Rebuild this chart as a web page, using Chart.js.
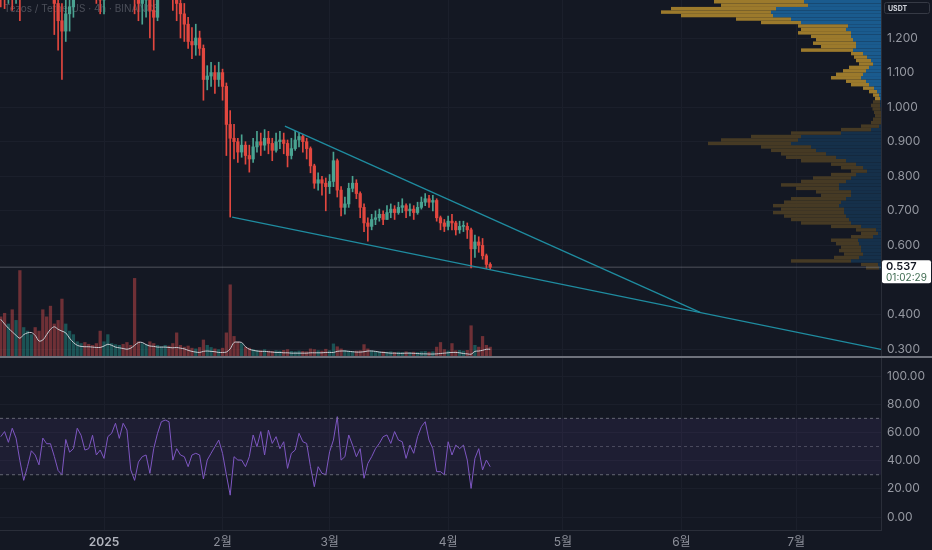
<!DOCTYPE html>
<html>
<head>
<meta charset="utf-8">
<script src="https://cdn.jsdelivr.net/npm/chart.js@4.4.0/dist/chart.umd.min.js"></script>
<style>
  html, body { margin: 0; padding: 0; background: #141823; }
  #wrap { position: relative; width: 932px; height: 550px; overflow: hidden; background: #141823; }
  canvas { position: absolute; left: 0; }
  #sep { position: absolute; left: 0; top: 356px; width: 932px; height: 2px; background: #6f727c; }
</style>
</head>
<body>
<div id="wrap">
  <canvas id="price" width="932" height="356" style="top:0"></canvas>
  <div id="sep"></div>
  <canvas id="rsi" width="932" height="192" style="top:358px"></canvas>
</div>
<script>
// XTZ/USDT, one entry per day, day 0 = 1 Jan 2025
const firstDay = -27;
const firstOpen = 1.37;
const closes = [
  1.36,1.34,1.38,1.35,1.37,1.34,1.42,1.48,1.52,1.50,
  1.47,1.45,1.40,1.38,1.30,1.25,1.22,1.27,1.29,1.33,
  1.37,1.40,1.38,1.36,1.34,1.33,1.31,1.34,1.38,1.42,
  1.45,1.48,1.46,1.43,1.38,1.33,1.30,1.31,1.32,1.28,
  1.26,1.33,1.38,1.40,1.36,1.33,1.30,1.27,1.24,1.19,
  1.18,1.20,1.17,1.08,1.09,1.10,1.08,1.10,1.06,0.95,
  0.91,0.90,0.87,0.89,0.86,0.85,0.885,0.90,0.89,0.91,
  0.895,0.875,0.90,0.905,0.895,0.86,0.88,0.905,0.915,0.90,
  0.88,0.83,0.78,0.79,0.78,0.77,0.785,0.845,0.76,0.71,
  0.72,0.765,0.78,0.75,0.71,0.665,0.655,0.675,0.68,0.69,
  0.675,0.695,0.705,0.695,0.71,0.715,0.70,0.705,0.695,0.71,
  0.725,0.735,0.725,0.73,0.68,0.665,0.655,0.67,0.665,0.645,
  0.655,0.655,0.645,0.59,0.61,0.60,0.57,0.545,0.537
];
const highs = [
  1.42,1.40,1.44,1.42,1.43,1.42,1.48,1.55,1.60,1.58,
  1.53,1.52,1.48,1.44,1.40,1.33,1.30,1.31,1.33,1.37,
  1.42,1.45,1.44,1.41,1.39,1.37,1.36,1.37,1.42,1.46,
  1.50,1.52,1.51,1.48,1.45,1.39,1.36,1.35,1.36,1.34,
  1.32,1.36,1.42,1.44,1.42,1.38,1.36,1.33,1.30,1.26,
  1.23,1.24,1.22,1.18,1.12,1.13,1.12,1.13,1.11,1.07,
  0.99,0.95,0.91,0.92,0.90,0.89,0.91,0.93,0.925,0.935,
  0.93,0.91,0.925,0.93,0.925,0.905,0.91,0.93,0.925,0.92,
  0.91,0.885,0.835,0.81,0.80,0.795,0.805,0.87,0.85,0.77,
  0.74,0.78,0.80,0.79,0.755,0.72,0.68,0.69,0.70,0.705,
  0.70,0.715,0.72,0.715,0.725,0.735,0.72,0.72,0.715,0.725,
  0.74,0.75,0.745,0.745,0.735,0.685,0.675,0.685,0.69,0.67,
  0.67,0.67,0.665,0.65,0.63,0.625,0.62,0.575,0.55
];
const lows = [
  1.29,1.285,1.30,1.28,1.30,1.25,1.33,1.40,1.45,1.44,
  1.41,1.38,1.35,1.33,1.21,1.165,1.08,1.19,1.22,1.26,
  1.32,1.35,1.33,1.32,1.315,1.30,1.27,1.27,1.32,1.36,
  1.40,1.42,1.40,1.36,1.32,1.27,1.25,1.24,1.26,1.20,
  1.165,1.25,1.32,1.35,1.32,1.28,1.25,1.20,1.19,1.17,
  1.14,1.15,1.15,1.02,1.05,1.06,1.04,1.06,1.02,0.86,
  0.682,0.85,0.84,0.855,0.835,0.812,0.84,0.87,0.86,0.875,
  0.865,0.845,0.87,0.88,0.865,0.827,0.85,0.875,0.885,0.87,
  0.85,0.81,0.765,0.76,0.745,0.70,0.75,0.77,0.74,0.685,
  0.69,0.71,0.755,0.735,0.68,0.64,0.612,0.645,0.66,0.67,
  0.66,0.675,0.68,0.675,0.69,0.695,0.68,0.685,0.675,0.69,
  0.705,0.715,0.71,0.70,0.67,0.645,0.64,0.645,0.645,0.63,
  0.635,0.64,0.62,0.535,0.565,0.58,0.56,0.533,0.53
];
const volumes = [
  11,12,9,13,10,24,8,7,6,8,
  7,13,11,14,9,10,16,9,7,6,
  4,3.5,3.8,3.3,3.0,3.5,7,4,6,3.5,
  3.2,3.0,3.3,3.8,3.0,21.8,4,3.5,3.2,4,
  3.5,3.0,2.6,3.0,2.8,3.5,6.5,3.0,2.5,2.8,
  2.2,2.0,2.4,4.5,3.0,2.4,2.0,1.8,2.2,6.5,
  20,5.5,4.0,3.5,2.5,2.2,1.8,1.6,1.5,1.8,
  1.4,1.3,1.5,1.4,1.6,1.8,1.3,1.2,1.4,1.3,
  1.2,2.0,1.8,1.5,1.4,1.9,1.5,3.4,2.6,2.0,
  1.6,1.4,1.3,1.4,1.5,3.2,2.0,1.5,1.3,1.2,
  1.2,1.1,1.2,1.0,1.1,1.0,1.2,1.0,1.1,1.0,
  1.2,1.3,1.1,1.2,2.5,3.8,1.8,1.4,3.5,1.5,
  1.6,1.4,1.6,8.5,3.0,2.5,5.5,3.0,2.5
];
const volumeMA = [
  10.3,9.0,7.8,6.8,5.8,5.0,6.0,6.5,6.6,5.8,
  4.2,4.5,6.0,7.5,8.2,7.5,7.0,6.5,5.0,3.8,
  3.0,2.7,2.6,2.6,2.5,2.4,2.4,2.8,3.3,3.0,
  2.5,2.3,2.1,1.9,2.2,3.0,3.8,3.8,3.2,2.8,
  2.7,2.5,2.5,2.5,2.4,2.3,2.4,2.2,2.0,1.6,
  1.3,1.1,1.0,1.3,1.4,1.3,1.2,1.0,1.0,1.1,
  2.0,3.8,3.9,3.8,2.6,1.9,1.6,1.4,1.3,1.3,
  1.2,1.1,1.0,1.0,0.9,0.9,0.8,0.8,0.8,0.8,
  0.8,0.9,0.9,0.9,0.9,1.0,1.0,1.0,1.3,1.4,
  1.4,1.3,1.2,1.1,1.1,1.2,1.4,1.4,1.3,1.1,
  1.0,0.9,0.8,0.8,0.75,0.75,0.8,0.8,0.75,0.7,
  0.6,0.6,0.55,0.55,0.6,0.7,0.8,0.9,1.0,1.0,
  0.9,0.7,0.6,0.5,1.3,1.4,1.6,1.9,1.9
];
const rsi = [
  57,60.6,53,63,56,40,26,36,47,44,
  37,56,52,52,43,33,30,55,46,48.5,
  63,58,47.5,48.5,58,44,47.5,41.6,57,59.4,
  66.5,55.8,66.5,61.7,33.4,26,39,42.8,44,31,
  48.5,59.4,67.6,68.8,67.6,40.4,48.5,44,42.8,35.7,
  44,45.2,44,27,40.4,45.2,49.9,54.6,45.2,30,
  15.5,42.8,40.4,40.4,35.7,42.8,58.2,49.9,60.6,44,
  61.7,52.2,57,48.5,53.4,34.5,45.2,47.5,59.4,53.4,
  52.2,35.7,21.5,35.7,31,30,46.3,54.6,71.2,40.4,
  42.8,58.2,51,42.8,48.5,27.5,38,42.8,48.5,52.2,
  57,58.2,52.2,60.6,54.6,53.4,41.6,51,45.2,57,
  64.1,67.6,54.6,48.5,32.2,32.2,30,53.4,44,51,
  48.5,51,40.4,20.3,41.6,48.5,33.4,40.4,35.7
];

// volume profile (visible range), rows of 0.01 from 0.53 up
const profileStep = 0.01;
const profileLevels = [
  0.53,0.54,0.55,0.56,0.57,0.58,0.59,0.60,0.61,0.62,
  0.63,0.64,0.65,0.66,0.67,0.68,0.69,0.70,0.71,0.72,
  0.73,0.74,0.75,0.76,0.77,0.78,0.79,0.80,0.81,0.82,
  0.83,0.84,0.85,0.86,0.87,0.88,0.89,0.90,0.91,0.92,
  0.93,0.94,0.95,0.96,0.97,0.98,0.99,1.00,1.01,1.02,
  1.03,1.04,1.05,1.06,1.07,1.08,1.09,1.10,1.11,1.12,
  1.13,1.14,1.15,1.16,1.17,1.18,1.19,1.20,1.21,1.22,
  1.23,1.24,1.25,1.26,1.27,1.28,1.29,1.30
];
const profileUp = [
  2,3,30,22,18,20,20,22,23,8,
  3,5,20,30,32,35,37,37,42,40,
  35,30,30,42,42,35,30,25,14,18,
  25,35,45,55,65,70,90,83,80,40,
  10,2,0,0,0,0,0.5,1,1,1,
  2,4,7,12,15,20,18,15,12,8,
  10,14,18,28,25,25,28,30,30,35,
  33,80,90,108,110,105,73,77
];
const profileDown = [
  13,17,60,25,19,22,20,23,27,22,
  17,20,30,50,58,62,71,63,66,57,
  55,30,35,43,58,45,38,25,16,22,
  25,45,50,45,45,50,83,77,50,50,
  30,18,10,8,6,7,8,9,7,5,
  6,8,11,18,20,30,27,23,20,14,
  15,13,12,52,35,43,37,40,53,45,
  50,40,55,92,110,105,87,90
];
const valueAreaLow = 1.02;

// falling wedge lines [day, price]
const wedgeUpperX = [47.3, 155.9];
const wedgeUpperY = [0.945, 0.406];
const wedgeLowerX = [33.5, 203.2];
const wedgeLowerY = [0.682, 0.299];

const monthTicks = [0, 31, 59, 90, 120, 151, 181];
const monthLabels = ['2025', '2월', '3월', '4월', '5월', '6월', '7월'];
const priceTicks = [0.3, 0.4, 0.6, 0.7, 0.8, 0.9, 1.0, 1.1, 1.2];
const rsiTicks = [0, 20, 40, 60, 80, 100];
const rsiBands = [70, 50, 30];

const xMin = -27.2, xMax = 203.2;
const FF = "Inter, 'Noto Sans CJK KR', sans-serif";
const gridCol = '#1b1f2b';
const axisText = '#9598a1';
Chart.defaults.font.family = FF;

const opens = closes.map((c, i) => i === 0 ? firstOpen : closes[i - 1]);
const upCol = '#4aa391', dnCol = '#e2473f';
const isUp = closes.map((c, i) => c >= opens[i]);
const candleCol = isUp.map(u => u ? upCol : dnCol);
const volCol = isUp.map(u => u ? 'rgba(38,166,154,0.42)' : 'rgba(239,83,80,0.42)');
const dayOf = i => firstDay + i;
const lastPrice = closes[closes.length - 1];

const monthTickBuilder = s => { s.ticks = monthTicks.map(v => ({ value: v })); };
// price/rsi axes: no extra label padding, fixed width
const sideAxisFit = s => { s.width = 51; s.paddingTop = 0; s.paddingBottom = 0; };

const paneDeco = {
  id: 'paneDeco',
  beforeDatasetsDraw(chart) {
    const { ctx, chartArea: a, scales } = chart;
    const y = scales.y, xp = scales.xProf;
    ctx.save();
    ctx.beginPath();
    ctx.rect(a.left, a.top, a.right - a.left, a.bottom - a.top);
    ctx.clip();
    ctx.font = '10px ' + FF;
    ctx.fillStyle = 'rgba(178,181,190,0.35)';
    ctx.textBaseline = 'middle';
    ctx.fillText('Tezos / TetherUS · 4h · BINANCE', 4, 9);
    profileLevels.forEach((p, i) => {
      const top = y.getPixelForValue(p + profileStep);
      const bot = y.getPixelForValue(p);
      const va = p >= valueAreaLow;
      const x0 = xp.getPixelForValue(0);
      const x1 = xp.getPixelForValue(profileUp[i]);
      const x2 = xp.getPixelForValue(profileUp[i] + profileDown[i]);
      ctx.fillStyle = va ? '#1a5b8e' : '#15304a';
      ctx.fillRect(x1, top, x0 - x1, bot - top);
      ctx.fillStyle = va ? '#9c7a2c' : '#463a24';
      ctx.fillRect(x2, top, x1 - x2, bot - top);
    });
    ctx.restore();
  },
  afterDraw(chart) {
    const { ctx, scales } = chart;
    const py = scales.y.getPixelForValue(lastPrice);
    ctx.save();
    // currency box
    ctx.fillStyle = '#141823';
    ctx.strokeStyle = '#363a45';
    ctx.beginPath();
    ctx.roundRect(884.5, 2.5, 45, 11, 2);
    ctx.fill(); ctx.stroke();
    ctx.fillStyle = '#d1d4dc';
    ctx.font = 'bold 7px ' + FF;
    ctx.textBaseline = 'middle';
    ctx.fillText('USDT', 888, 8.5);
    // last price label
    ctx.fillStyle = '#ffffff';
    ctx.beginPath();
    ctx.roundRect(882, py - 7, 49, 23, 2);
    ctx.fill();
    ctx.fillStyle = '#131722';
    ctx.font = '600 11px ' + FF;
    ctx.fillText(lastPrice.toFixed(3), 886, py);
    ctx.fillStyle = '#3e6b50';
    ctx.font = '10px ' + FF;
    ctx.fillText('01:02:29', 886, py + 10.5);
    ctx.restore();
  }
};

new Chart(document.getElementById('price'), {
  type: 'bar',
  data: {
    datasets: [
      {
        type: 'bar', label: 'volume', yAxisID: 'yVol', order: 10,
        data: volumes.map((v, i) => ({ x: dayOf(i), y: v })),
        backgroundColor: volCol, barThickness: 2.6, grouped: false, borderWidth: 0
      },
      {
        type: 'line', label: 'volume MA', yAxisID: 'yVol', order: 9,
        data: volumeMA.map((v, i) => ({ x: dayOf(i), y: v })),
        borderColor: '#c9cbd1', borderWidth: 1, pointRadius: 0, tension: 0.3
      },
      {
        type: 'line', label: 'last', yAxisID: 'y', order: 8,
        data: [{ x: xMin, y: lastPrice }, { x: xMax, y: lastPrice }],
        borderColor: 'rgba(150,153,162,0.45)', borderWidth: 1, pointRadius: 0
      },
      {
        type: 'bar', label: 'wick', yAxisID: 'y', order: 3,
        data: closes.map((c, i) => ({ x: dayOf(i), y: [lows[i], highs[i]] })),
        backgroundColor: candleCol, barThickness: 1, grouped: false, borderWidth: 0
      },
      {
        type: 'bar', label: 'body', yAxisID: 'y', order: 2,
        data: closes.map((c, i) => ({ x: dayOf(i), y: [opens[i], c] })),
        backgroundColor: candleCol, barThickness: 2.6, grouped: false, borderWidth: 0, minBarLength: 1
      },
      {
        type: 'line', label: 'wedge upper', yAxisID: 'y', order: 1,
        data: wedgeUpperX.map((x, i) => ({ x, y: wedgeUpperY[i] })),
        borderColor: '#1f8ca0', borderWidth: 1.3, pointRadius: 0
      },
      {
        type: 'line', label: 'wedge lower', yAxisID: 'y', order: 1,
        data: wedgeLowerX.map((x, i) => ({ x, y: wedgeLowerY[i] })),
        borderColor: '#1f8ca0', borderWidth: 1.3, pointRadius: 0
      }
    ]
  },
  options: {
    responsive: false, animation: false,
    layout: { padding: 0 },
    plugins: { legend: { display: false }, tooltip: { enabled: false } },
    scales: {
      x: {
        type: 'linear', min: xMin, max: xMax, offset: false,
        afterBuildTicks: monthTickBuilder,
        ticks: { display: false },
        grid: { color: gridCol, drawTicks: false, offset: false },
        border: { display: false },
        afterFit: s => { s.height = 0; s.paddingLeft = 0; s.paddingRight = 0; }
      },
      y: {
        position: 'right', min: 0.28, max: 1.31,
        afterBuildTicks: s => { s.ticks = priceTicks.map(v => ({ value: v })); },
        ticks: { color: axisText, font: { size: 12 }, padding: 6, callback: v => Number(v).toFixed(3) },
        grid: { color: gridCol, drawTicks: false },
        border: { color: '#2a2e39' },
        afterFit: sideAxisFit
      },
      yVol: { axis: 'y', type: 'linear', display: false, min: 0, max: 100 },
      xProf: { axis: 'x', type: 'linear', display: false, min: 0, max: 881, reverse: true, offset: false }
    }
  },
  plugins: [paneDeco]
});

const bandLine = v => ({ x: xMin, y: v });
new Chart(document.getElementById('rsi'), {
  type: 'line',
  data: {
    datasets: [
      {
        label: 'upper', data: [bandLine(rsiBands[0]), { x: xMax, y: rsiBands[0] }],
        borderColor: 'rgba(120,123,134,0.8)', borderWidth: 1, borderDash: [3, 3], pointRadius: 0, fill: false
      },
      {
        label: 'lower', data: [bandLine(rsiBands[2]), { x: xMax, y: rsiBands[2] }],
        borderColor: 'rgba(120,123,134,0.8)', borderWidth: 1, borderDash: [3, 3], pointRadius: 0,
        fill: '-1', backgroundColor: 'rgba(126,87,194,0.1)'
      },
      {
        label: 'middle', data: [bandLine(rsiBands[1]), { x: xMax, y: rsiBands[1] }],
        borderColor: 'rgba(120,123,134,0.5)', borderWidth: 1, borderDash: [3, 3], pointRadius: 0, fill: false
      },
      {
        label: 'RSI', data: rsi.map((v, i) => ({ x: dayOf(i), y: v })),
        borderColor: '#7e57c2', borderWidth: 1, pointRadius: 0, fill: false
      }
    ]
  },
  options: {
    responsive: false, animation: false,
    layout: { padding: 0 },
    plugins: { legend: { display: false }, tooltip: { enabled: false } },
    scales: {
      x: {
        type: 'linear', min: xMin, max: xMax,
        afterBuildTicks: monthTickBuilder,
        ticks: {
          autoSkip: false, maxRotation: 0, padding: 5,
          callback: (v, i) => monthLabels[i],
          color: c => (c.tick && c.tick.value === 0) ? '#b2b5be' : '#8c8f99',
          font: c => ({ size: 12, weight: (c.tick && c.tick.value === 0) ? '600' : '400' })
        },
        grid: { color: gridCol, drawTicks: false },
        border: { color: '#2a2e39' },
        afterFit: s => { s.height = 20; s.paddingLeft = 0; s.paddingRight = 0; }
      },
      y: {
        position: 'right', min: -9.2, max: 112.8,
        afterBuildTicks: s => { s.ticks = rsiTicks.map(v => ({ value: v })); },
        ticks: { color: axisText, font: { size: 12 }, padding: 6, callback: v => Number(v).toFixed(2) },
        grid: { color: gridCol, drawTicks: false },
        border: { color: '#2a2e39' },
        afterFit: sideAxisFit
      }
    }
  }
});
</script>
</body>
</html>
